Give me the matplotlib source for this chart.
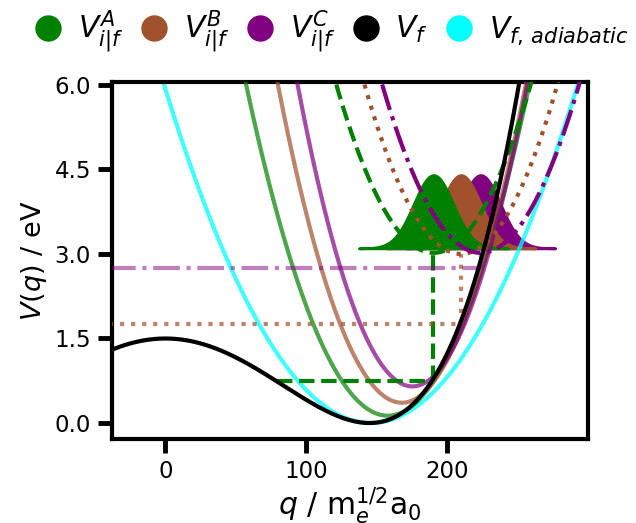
import numpy as np
import matplotlib.pyplot as plt
from matplotlib.lines import Line2D

labels = [r'$V_{i|f}^A$', r'$V_{i|f}^B$', r'$V_{i|f}^C$', r'$V_f$', r'$V_{f,\,adiabatic}$']
colors = ['green', 'sienna', 'purple', 'black', 'cyan']

# initial state parabolas (centre, minimum, curvature)
vi_center = [158.0, 168.0, 175.5]
vi_min = [0.13, 0.36, 0.65]
vi_k = [5.8e-4, 7.28e-4, 8.05e-4]

# upper (vertically excited) parabolas
up_center = [190.5, 210.0, 224.0]
up_min = [3.02, 3.0, 3.02]
up_k = [6.26e-4, 6.4e-4, 6.1e-4]
up_style = ['--', ':', '-.']

# energy levels and where they start on the left
level = [0.75, 1.75, 2.75]
level_start = [79.5, -40.0, -40.0]
level_alpha = [1.0, 0.7, 0.5]

# wavepackets
gauss_base = 3.1
gauss_amp = 1.3
gauss_sigma = 14.0
gauss_half = 53.0

# final state double well and adiabatic fit
vf_barrier = 1.5
vf_qmin = 145.0
ad_center = 146.0
ad_k = 2.78e-4

fig = plt.figure(figsize=(6.36, 5.23), dpi=100)
ax = fig.add_axes([0.176, 0.161, 0.749, 0.682])

q = np.linspace(-45, 305, 800)

#wavepackets first so the curves sit on top
for i in [2, 1, 0]:
    qg = np.linspace(up_center[i] - gauss_half, up_center[i] + gauss_half, 300)
    g = gauss_base + gauss_amp * np.exp(-(qg - up_center[i])**2 / (2 * gauss_sigma**2))
    ax.fill_between(qg, gauss_base, g, color=colors[i], lw=2, zorder=1)

vf = vf_barrier * (1 - (q / vf_qmin)**2)**2
ad = ad_k * (q - ad_center)**2
ax.plot(q, ad, color='cyan', lw=3, alpha=0.75, zorder=2)

for i in range(3):
    vi = vi_min[i] + vi_k[i] * (q - vi_center[i])**2
    ax.plot(q, vi, color=colors[i], lw=3, alpha=0.7, zorder=3)
    vu = up_min[i] + up_k[i] * (q - up_center[i])**2
    ax.plot(q, vu, color=colors[i], lw=3, ls=up_style[i], zorder=4)

ax.plot(q, vf, color='black', lw=3, zorder=5)

# levels and vertical lines up to the upper parabola
for i in range(3):
    ax.plot([level_start[i], up_center[i]], [level[i], level[i]], color=colors[i],
            ls=up_style[i], lw=3, alpha=level_alpha[i], zorder=4)
    ax.plot([up_center[i], up_center[i]], [level[i], up_min[i]], color=colors[i],
            ls=up_style[i], lw=3, alpha=level_alpha[i], zorder=4)

ax.set_xlim(-38, 300.5)
ax.set_ylim(-0.28, 6.05)
ax.set_xticks([0, 100, 200])
ax.set_yticks([0.0, 1.5, 3.0, 4.5, 6.0])
ax.set_yticklabels(['0.0', '1.5', '3.0', '4.5', '6.0'])
ax.tick_params(labelsize=16.5, length=10, width=3.5, direction='out', pad=5)
for s in ax.spines.values():
    s.set_linewidth(3)
ax.set_xlabel(r'$q$ / m$_e^{1/2}$a$_0$', fontsize=21.5, labelpad=2)
ax.set_ylabel(r'$V(q)$ / eV', fontsize=19.5, labelpad=4)

handles = [Line2D([], [], marker='o', ls='none', color=c, markersize=18) for c in colors]
fig.legend(handles, labels, loc='upper center', bbox_to_anchor=(0.52, 1.035), ncol=5,
           frameon=False, fontsize=21.5, handletextpad=0.5, columnspacing=0.53,
           handlelength=1.0)

fig.savefig('out.png', dpi=100)
